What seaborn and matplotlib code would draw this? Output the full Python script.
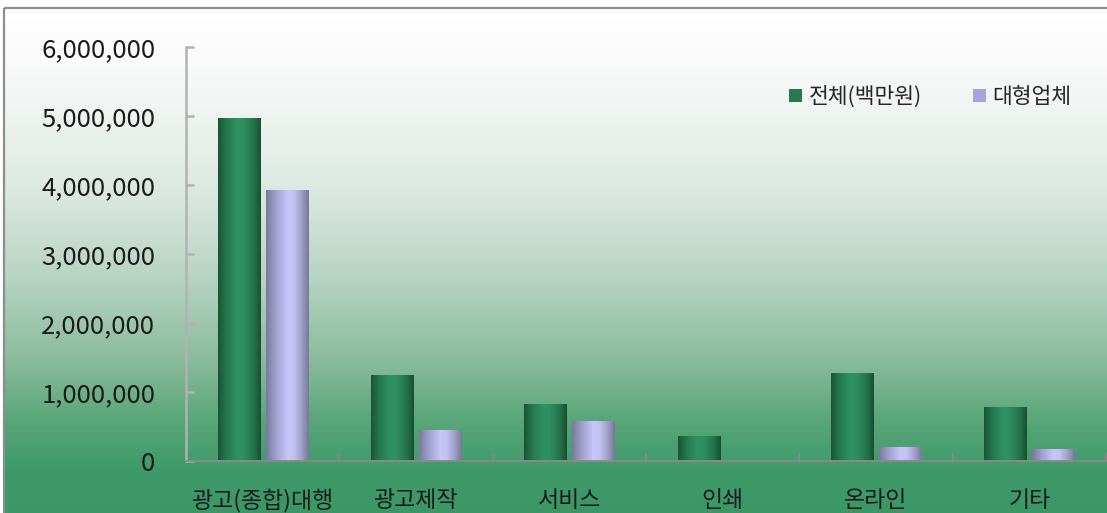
import numpy as np
import pandas as pd
import matplotlib
matplotlib.use("Agg")
import matplotlib.pyplot as plt
import seaborn as sns
from matplotlib.colors import LinearSegmentedColormap
from matplotlib.patches import Patch
from matplotlib.ticker import FuncFormatter, FixedLocator

# ---- data ----
categories = ["광고(종합)대행", "광고제작", "서비스", "인쇄", "온라인", "기타"]
total_values = [4970000, 1235000, 815000, 350000, 1265000, 770000]
large_values = [3920000, 436000, 567000, 0, 190000, 160000]
series_names = ["전체(백만원)", "대형업체"]
y_ticks = [0, 1000000, 2000000, 3000000, 4000000, 5000000, 6000000]

sns.set_theme(style="white")
plt.rcParams["font.family"] = ["Noto Sans CJK KR", "DejaVu Sans"]

W, H = 1107, 513
fig = plt.figure(figsize=(W / 100, H / 100), dpi=100, facecolor="white")

# ---- background gradient (figure level) ----
bg = fig.add_axes([0, 0, 1, 1], zorder=-10)
bg.set_xlim(0, W)
bg.set_ylim(H, 0)
bg.axis("off")
stops_px = [8, 60, 100, 150, 200, 280, 360, 420, 470, 513]
stops_col = ["#ffffff", "#fafbfa", "#f2f5f3", "#e6efea", "#d8e6de",
             "#b5d3c2", "#8bbb9c", "#5aa679", "#3f9a69", "#3b9866"]
pos = [(p - 8) / (513 - 8) for p in stops_px]
bg_cmap = LinearSegmentedColormap.from_list("bg", list(zip(pos, stops_col)))
grad = np.linspace(0, 1, 400).reshape(-1, 1)
bg.imshow(grad, cmap=bg_cmap, extent=[4, W + 5, H, 8], aspect="auto", interpolation="bilinear")
bg.plot([4, 4], [H + 5, 8], color="#8e8e8e", lw=1.6, solid_capstyle="butt")
bg.plot([4, W + 5], [8, 8], color="#8e8e8e", lw=1.6, solid_capstyle="butt")

# ---- main axes ----
ax = fig.add_axes([186 / W, 52 / H, (1106 - 186) / W, (461 - 47) / H])
ax.set_facecolor("none")

df = pd.DataFrame({
    "category": categories * 2,
    "series": [series_names[0]] * len(categories) + [series_names[1]] * len(categories),
    "value": total_values + large_values,
})
base_colors = ["#267a4e", "#a6a6d8"]
sns.barplot(data=df, x="category", y="value", hue="series", order=categories,
            hue_order=series_names, palette=base_colors, width=0.627, gap=0.126,
            ax=ax, legend=False, saturation=1, edgecolor="none", linewidth=0)

# gradient overlays on bars
green_cmap = LinearSegmentedColormap.from_list(
    "g", [(0, "#1c5436"), (0.2, "#257a4d"), (0.45, "#2f9262"), (0.6, "#2e8f60"), (0.85, "#237248"), (1, "#1b4e33")])
purple_cmap = LinearSegmentedColormap.from_list(
    "p", [(0, "#7a7a9e"), (0.25, "#a3a3d2"), (0.5, "#c6c6f7"), (0.65, "#c2c2f2"), (0.85, "#9c9cc6"), (1, "#78789a")])
hgrad = np.linspace(0, 1, 100).reshape(1, -1)
n = len(categories)
for i, p in enumerate(list(ax.patches)):
    x0, w = p.get_x(), p.get_width()
    h = p.get_height()
    if h <= 0:
        continue
    cmap = green_cmap if i < n else purple_cmap
    ax.imshow(hgrad, cmap=cmap, extent=[x0, x0 + w, 0, h], aspect="auto",
              interpolation="bilinear", zorder=p.get_zorder() + 0.1)
ax.set_xlim(-0.5, len(categories) - 0.5)
ax.set_ylim(0, 6000000)

# axes styling
for s in ["top", "right"]:
    ax.spines[s].set_visible(False)
ax.spines["left"].set_color("#b2b2b2")
ax.spines["left"].set_linewidth(1.8)
ax.spines["bottom"].set_color("#8a8a8a")
ax.spines["bottom"].set_linewidth(1.4)

ax.yaxis.set_major_locator(FixedLocator(y_ticks))
ax.yaxis.set_major_formatter(FuncFormatter(lambda v, _: f"{int(v):,}"))
ax.tick_params(axis="y", direction="in", length=5.5, width=1.8, color="#b2b2b2",
               labelsize=18.5, labelcolor="#1a1a1a", pad=22, left=True)
ax.set_xticks(range(n))
ax.set_xticklabels(categories)
ax.tick_params(axis="x", length=0, labelsize=16.5, labelcolor="#1a1a1a", pad=20)
ax.set_xticks(np.arange(-0.5, n, 1.0), minor=True)
ax.tick_params(axis="x", which="minor", direction="in", length=5.5, width=1.2,
               color="#8a8a8a", bottom=True)
ax.set_xlabel("")
ax.set_ylabel("")
ax.grid(False)

# legend
handles = [Patch(facecolor="#267a4e", edgecolor="none"),
           Patch(facecolor="#a6a6d8", edgecolor="none")]
fig.legend(handles, series_names, loc="center left",
           bbox_to_anchor=(789 / W, 1 - 97 / H), ncol=2, frameon=False,
           fontsize=15.5, handlelength=0.6, handleheight=0.6,
           handletextpad=0.3, columnspacing=2.4, borderpad=0, borderaxespad=0)

fig.savefig("out.png", dpi=100, facecolor="white")
